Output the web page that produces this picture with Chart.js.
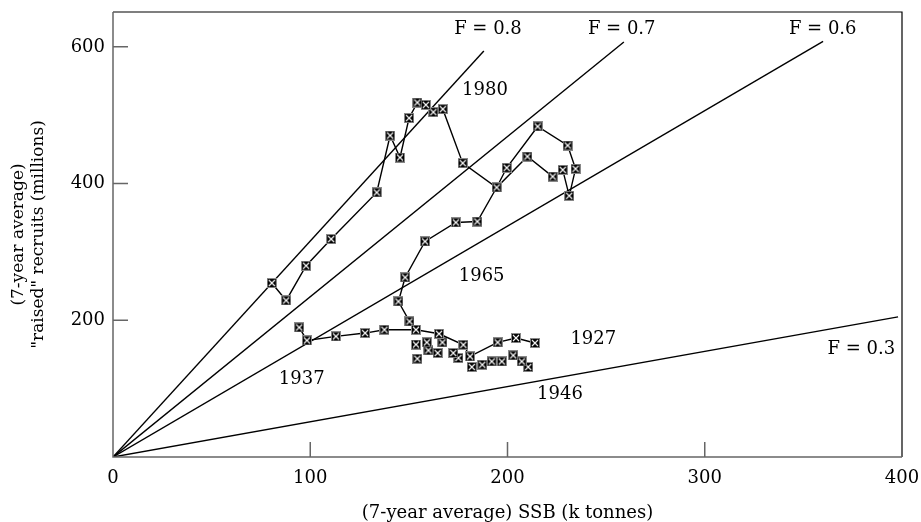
<!DOCTYPE html>
<html>
<head>
<meta charset="utf-8">
<script src="https://cdn.jsdelivr.net/npm/chart.js@4"></script>
<style>
  body { margin: 0; background: #fff; }
  #wrap { width: 921px; height: 522px; }
</style>
</head>
<body>
<div id="wrap"><canvas id="myChart" width="921" height="522"></canvas></div>
<script>
// 1927-1938, joined
var ssbEarly = [213.9, 204.3, 195.0, 181.0, 177.6, 165.3, 153.6, 137.6, 127.8, 113.0, 98.3, 94.4];
var recEarly = [166.7, 174.0, 167.6, 147.1, 164.2, 180.3, 186.2, 186.2, 181.3, 176.4, 170.5, 189.5];

// 1946-1960, markers only
var ssbMid = [210.5, 207.2, 202.9, 197.1, 192.0, 187.2, 181.9, 175.1, 172.5, 167.0, 164.6, 159.9, 159.1, 154.3, 153.6];
var recMid = [131.6, 139.8, 148.6, 139.8, 139.8, 135.0, 131.6, 144.8, 152.1, 167.6, 152.1, 155.9, 167.6, 143.8, 164.5];

// 1961-1989, joined
var ssbLate = [150.3, 144.7, 148.1, 158.2, 173.8, 184.7, 194.5, 199.6, 215.3, 230.5, 234.5, 231.3, 228.0, 222.9, 210.1,
               194.5, 177.3, 167.2, 162.4, 158.6, 154.3, 150.1, 145.5, 140.5, 133.7, 110.6, 97.9, 87.8, 80.5];
var recLate = [198.3, 227.5, 262.6, 315.3, 343.1, 344.5, 394.3, 423.1, 483.5, 455.7, 421.6, 382.1, 420.1, 410.3, 439.6,
               394.3, 429.9, 508.9, 504.5, 515.2, 518.6, 495.8, 438.1, 470.3, 387.0, 318.8, 279.8, 229.0, 254.5];

// F lines from the origin
var fNames = ['F = 0.8', 'F = 0.7', 'F = 0.6', 'F = 0.3'];
var fEndX = [188, 259, 360, 398];
var fEndY = [594, 607, 608, 205];

// text notes
var noteText = ['F = 0.8', 'F = 0.7', 'F = 0.6', 'F = 0.3', '1980', '1965', '1937', '1927', '1946'];
var noteX = [190.1, 257.9, 359.8, 379.4, 188.6, 186.9, 95.7, 243.5, 226.6];
var noteY = [625.3, 625.3, 625.3, 158, 536.5, 264.3, 113.1, 172.7, 91.2];

var xTicks = [0, 100, 200, 300, 400];
var yTicks = [200, 400, 600];

var serif = 'DejaVu Serif';

function makeMarker(size) {
    var c = document.createElement('canvas');
    c.width = size;
    c.height = size;
    var g = c.getContext('2d');
    g.fillStyle = '#888';
    g.fillRect(0, 0, size, size);
    g.fillStyle = '#000';
    g.fillRect(1, 1, size - 2, size - 2);
    g.strokeStyle = '#fff';
    g.lineWidth = 1.1;
    g.beginPath();
    g.moveTo(2, 2);
    g.lineTo(size - 2, size - 2);
    g.moveTo(size - 2, 2);
    g.lineTo(2, size - 2);
    g.stroke();
    return c;
}
var marker = makeMarker(10);

function pts(xs, ys) {
    return xs.map(function (x, i) { return { x: x, y: ys[i] }; });
}

var datasets = [];
fNames.forEach(function (name, i) {
    datasets.push({
        label: name,
        data: [{ x: 0, y: 0 }, { x: fEndX[i], y: fEndY[i] }],
        showLine: true,
        borderColor: '#000',
        borderWidth: 1.4,
        pointRadius: 0,
        order: 10
    });
});
datasets.push({
    label: '1927-1938',
    data: pts(ssbEarly, recEarly),
    showLine: true,
    borderColor: '#000',
    borderWidth: 1.4,
    pointStyle: marker,
    order: 1
});
datasets.push({
    label: '1946-1960',
    data: pts(ssbMid, recMid),
    showLine: false,
    pointStyle: marker,
    order: 1
});
datasets.push({
    label: '1961-1989',
    data: pts(ssbLate, recLate),
    showLine: true,
    borderColor: '#000',
    borderWidth: 1.4,
    pointStyle: marker,
    order: 1
});

// frame, inward ticks and text notes
const framePlugin = {
    id: 'frame',
    afterDatasetsDraw(chart) {
        const ctx = chart.ctx;
        const a = chart.chartArea;
        const xs = chart.scales.x;
        const ys = chart.scales.y;
        ctx.save();
        ctx.lineWidth = 1.2;
        ctx.strokeStyle = '#000';
        ctx.beginPath();
        ctx.moveTo(a.left, a.top);
        ctx.lineTo(a.right, a.top);
        ctx.lineTo(a.right, a.bottom);
        ctx.stroke();
        ctx.strokeStyle = '#666';
        ctx.lineWidth = 1.5;
        ctx.beginPath();
        ctx.moveTo(a.left, a.top);
        ctx.lineTo(a.left, a.bottom);
        ctx.lineTo(a.right, a.bottom);
        ctx.stroke();
        ctx.beginPath();
        xTicks.slice(1, -1).forEach(function (v) {
            const px = xs.getPixelForValue(v);
            ctx.moveTo(px, a.bottom);
            ctx.lineTo(px, a.bottom - 15);
        });
        yTicks.forEach(function (v) {
            const py = ys.getPixelForValue(v);
            ctx.moveTo(a.left, py);
            ctx.lineTo(a.left + 15, py);
        });
        ctx.stroke();

        ctx.fillStyle = '#000';
        ctx.font = '18px "' + serif + '"';
        ctx.textAlign = 'center';
        ctx.textBaseline = 'middle';
        noteText.forEach(function (t, i) {
            ctx.fillText(t, xs.getPixelForValue(noteX[i]), ys.getPixelForValue(noteY[i]));
        });
        ctx.restore();
    }
};

function noEdgePadding(scale) {
    scale.paddingTop = 0;
    scale.paddingBottom = 0;
    scale.paddingLeft = 0;
    scale.paddingRight = 0;
}

var ctx = document.getElementById('myChart').getContext('2d');
var myChart = new Chart(ctx, {
    type: 'scatter',
    data: { datasets: datasets },
    options: {
        responsive: false,
        animation: false,
        layout: { padding: { top: 12, right: 19, left: 0, bottom: 0 } },
        elements: { point: { radius: 5 } },
        plugins: {
            legend: { display: false },
            tooltip: { enabled: false }
        },
        scales: {
            x: {
                type: 'linear',
                min: 0,
                max: 400,
                grid: { display: false, drawTicks: false },
                border: { display: false },
                afterBuildTicks: function (scale) {
                    scale.ticks = xTicks.map(function (v) { return { value: v }; });
                },
                afterFit: function (scale) { scale.height = 65; noEdgePadding(scale); },
                ticks: {
                    padding: 11,
                    color: '#000',
                    font: { family: serif, size: 18 },
                    maxRotation: 0
                },
                title: {
                    display: true,
                    text: '(7-year average) SSB (k tonnes)',
                    color: '#000',
                    font: { family: serif, size: 18, lineHeight: 1 },
                    padding: 0
                }
            },
            y: {
                type: 'linear',
                min: 0,
                max: 651,
                grid: { display: false, drawTicks: false },
                border: { display: false },
                afterBuildTicks: function (scale) {
                    scale.ticks = yTicks.map(function (v) { return { value: v }; });
                },
                afterFit: function (scale) { scale.width = 113; noEdgePadding(scale); },
                ticks: {
                    padding: 8,
                    color: '#000',
                    font: { family: serif, size: 18 }
                },
                title: {
                    display: true,
                    text: ['(7-year average)', '"raised" recruits (millions)'],
                    color: '#000',
                    font: { family: serif, size: 17, lineHeight: 1.2 },
                    padding: { top: 8, bottom: 0 }
                }
            }
        }
    },
    plugins: [framePlugin]
});
</script>
</body>
</html>
